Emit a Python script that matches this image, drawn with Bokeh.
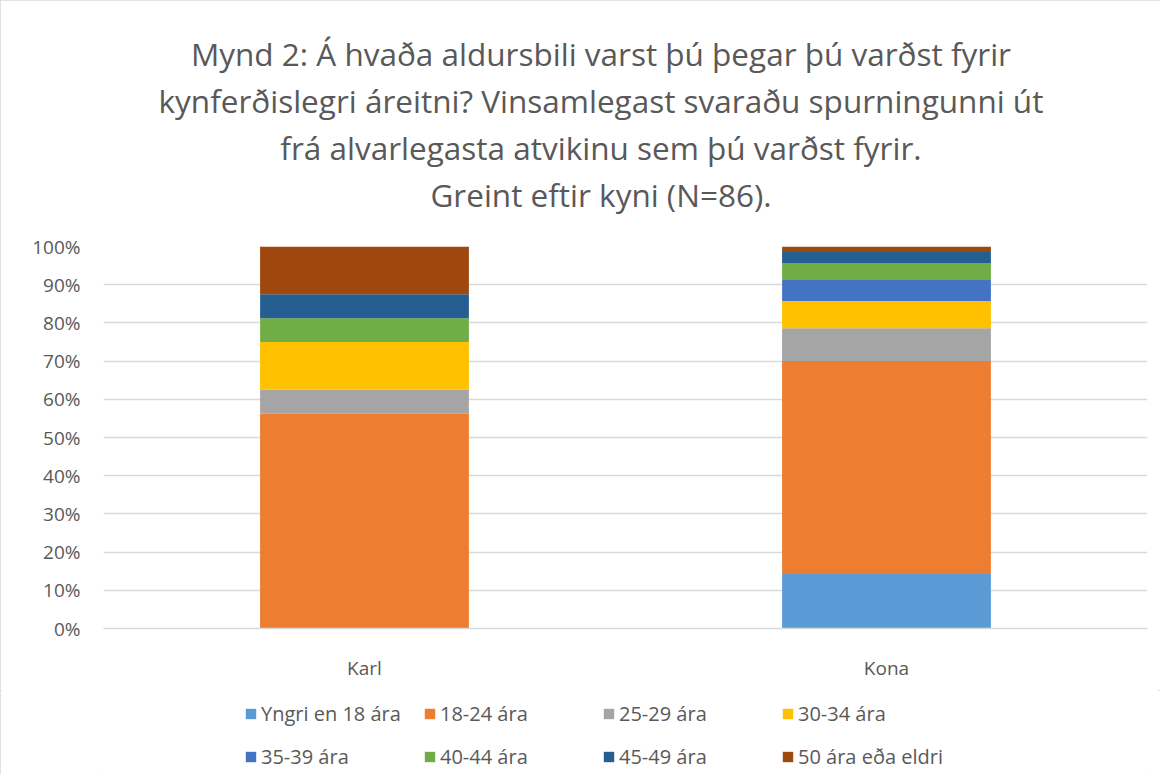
from bokeh.plotting import figure
from bokeh.layouts import column
from bokeh.models import (ColumnDataSource, FactorRange, Range1d, Title, Legend, LegendItem,
                          PrintfTickFormatter, FixedTicker)
from bokeh.embed import file_html
from bokeh.resources import INLINE

# ---- data ----
categories = ["Karl", "Kona"]
age_groups = ["Yngri en 18 ára", "18-24 ára", "25-29 ára", "30-34 ára",
              "35-39 ára", "40-44 ára", "45-49 ára", "50 ára eða eldri"]
yngri_18 = [0.0, 14.29]
a18_24 = [56.25, 55.71]
a25_29 = [6.25, 8.57]
a30_34 = [12.5, 7.14]
a35_39 = [0.0, 5.71]
a40_44 = [6.25, 4.29]
a45_49 = [6.25, 2.86]
a50_plus = [12.5, 1.43]
colors = ["#5B9BD5", "#ED7D31", "#A5A5A5", "#FFC000",
          "#4472C4", "#70AD47", "#255E91", "#9E480E"]
title_lines = [
    "Mynd 2: Á hvaða aldursbili varst þú þegar þú varðst fyrir",
    "kynferðislegri áreitni? Vinsamlegast svaraðu spurningunni út",
    "frá alvarlegasta atvikinu sem þú varðst fyrir.",
    "Greint eftir kyni (N=86).",
]

keys = ["g0", "g1", "g2", "g3", "g4", "g5", "g6", "g7"]
series = [yngri_18, a18_24, a25_29, a30_34, a35_39, a40_44, a45_49, a50_plus]
data = {"cat": categories}
for k, s in zip(keys, series):
    data[k] = s
source = ColumnDataSource(data)

FONT = "Open Sans"
TXT = "#595959"
W = 1160

# ---------------- main chart ----------------
p = figure(x_range=FactorRange(*categories, range_padding=0),
           y_range=Range1d(0, 100),
           width=W, height=690, output_backend="svg", toolbar_location=None,
           min_border_left=103, min_border_right=13, min_border_top=246, min_border_bottom=62)
p.outline_line_color = None

renderers = p.vbar_stack(keys, x="cat", width=0.4, source=source, color=colors,
                         line_color=None)

p.yaxis.ticker = FixedTicker(ticks=list(range(0, 101, 10)))
p.yaxis.formatter = PrintfTickFormatter(format="%d%%")
p.yaxis.axis_line_color = None
p.yaxis.major_tick_line_color = None
p.yaxis.major_tick_out = 0
p.yaxis.minor_tick_line_color = None
p.yaxis.minor_tick_out = 0
p.yaxis.major_label_standoff = 23
p.yaxis.major_label_text_font = FONT
p.yaxis.major_label_text_font_size = "19px"
p.yaxis.major_label_text_color = TXT

p.xaxis.axis_line_color = "#d9d9d9"
p.xaxis.axis_line_width = 1.5
p.xaxis.major_tick_line_color = None
p.xaxis.minor_tick_line_color = None
p.xaxis.major_label_standoff = 20
p.xaxis.major_label_text_font = FONT
p.xaxis.major_label_text_font_size = "19px"
p.xaxis.major_label_text_color = TXT

p.xgrid.grid_line_color = None
p.ygrid.grid_line_color = "#d9d9d9"
p.ygrid.grid_line_width = 1.5

# invisible (zero-width) spacer between the frame and the title block
p.add_layout(Title(text="\u200b", standoff=0, text_font=FONT, text_font_size="21px",
                   text_color="white"), "above")
# title lines: the first one added sits nearest the frame
pad = "\u00a0" * 6  # nudges the centred lines slightly left, as in the reference
for line in reversed(title_lines):
    p.add_layout(Title(text=line + pad, align="center", standoff=2,
                       text_font=FONT, text_font_size="31.5px", text_color=TXT,
                       text_font_style="normal"), "above")

# ---------------- legend strip ----------------
lf = figure(x_range=Range1d(0, 1), y_range=Range1d(0, 1), width=W, height=84,
            output_backend="svg", toolbar_location=None,
            min_border=0, min_border_left=0, min_border_right=0,
            min_border_top=0, min_border_bottom=0)
lf.axis.visible = False
lf.grid.visible = False
lf.outline_line_color = None
# swatch renderers for the legend, placed outside the visible range
swatches = [lf.vbar(x=[-5], top=[-5], bottom=[-6], width=0.1, fill_color=c, line_color=None)
            for c in colors]

def make_legend(idx, y):
    items = [LegendItem(label=age_groups[i], renderers=[swatches[i]]) for i in idx]
    lg = Legend(items=items, orientation="horizontal", location=(141, y),
                glyph_width=13, glyph_height=13, label_standoff=4, label_width=160,
                label_height=26, spacing=2, padding=0, margin=0,
                border_line_color=None, background_fill_alpha=0,
                label_text_font=FONT, label_text_font_size="20px", label_text_color=TXT)
    lf.add_layout(lg, "center")

make_legend([0, 1, 2, 3], 47)
make_legend([4, 5, 6, 7], 4)

layout = column(p, lf, spacing=0)
layout.styles = {"outline": "2px solid #d9d9d9", "outline-offset": "-2px"}

open("out.html", "w").write(file_html(layout, INLINE))
